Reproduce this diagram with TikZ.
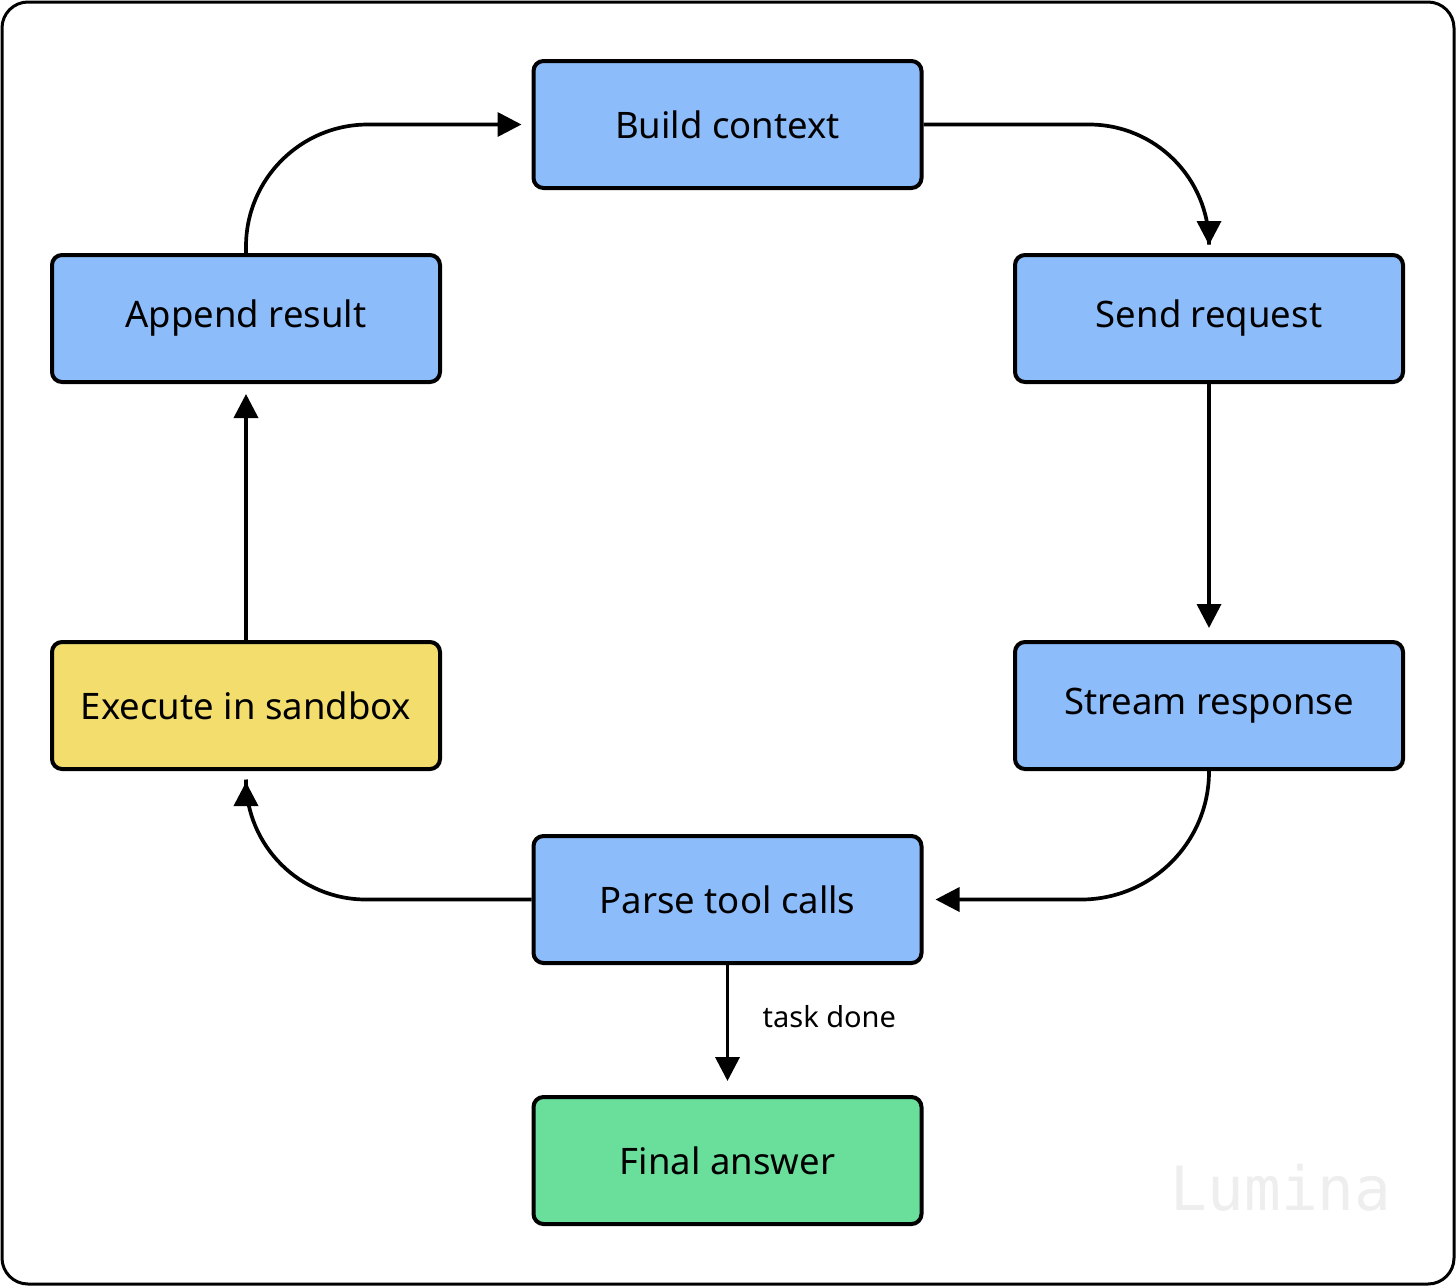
\documentclass[tikz,border=0pt]{standalone}
\usepackage{fontspec}
\setmainfont{Noto Sans}
\newfontfamily\wmfont{DejaVu Sans Mono}
\usetikzlibrary{arrows.meta}
\definecolor{boxblue}{HTML}{8DBCFA}
\definecolor{boxyellow}{HTML}{F2DD6D}
\definecolor{boxgreen}{HTML}{69DF9B}
\definecolor{wmgray}{HTML}{EEEEEE}
\begin{document}
\begin{tikzpicture}[x=1pt,y=-1pt,
  stepbox/.style={draw=black, line width=4pt, rounded corners=10pt,
    minimum width=388pt, minimum height=127pt, inner sep=0pt,
    font=\fontsize{36.5}{44}\selectfont},
  conn/.style={draw=black, line width=3.7pt, -{Triangle[length=24pt,width=24pt]}}
]
\useasboundingbox (0,0) rectangle (1456,1286);
\draw[line width=3pt, rounded corners=26pt] (2,2) rectangle (1454,1284);

\node[stepbox, fill=boxblue] (bc) at (727.5,124.5) {Build context};
\node[stepbox, fill=boxblue] (sr) at (1209,318.5) {Send request};
\node[stepbox, fill=boxblue] (st) at (1209,705.5) {Stream response};
\node[stepbox, fill=boxblue] (pt) at (727.5,899.5) {Parse tool calls};
\node[stepbox, fill=boxgreen] (fa) at (727.5,1160.5) {Final answer};
\node[stepbox, fill=boxblue] (ar) at (246,318.5) {Append result};
\node[stepbox, fill=boxyellow] (ex) at (246,705.5) {Execute in sandbox};

\node[text=wmgray, font=\wmfont\fontsize{61}{70}\selectfont, anchor=center] (wm) at (1281,1188) {Lumina};

\draw[conn, rounded corners=122pt, shorten >=10pt] (ar.north) |- (bc.west);
\draw[conn, rounded corners=120pt, shorten >=8pt] (bc.east) -| (sr.north);
\draw[conn, shorten >=12pt] (sr.south) -- (st.north);
\draw[conn, rounded corners=128pt, shorten >=12pt] (st.south) |- (pt.east);
\draw[conn, rounded corners=120pt, shorten >=11pt] (pt.west) -| (ex.south);
\draw[conn, shorten >=10pt] (ex.north) -- (ar.south);
\draw[conn, shorten >=14pt] (pt.south) -- node[pos=0.4, anchor=west, xshift=30pt, font=\fontsize{29}{34}\selectfont] (td) {task done} (fa.north);
\end{tikzpicture}
\end{document}
